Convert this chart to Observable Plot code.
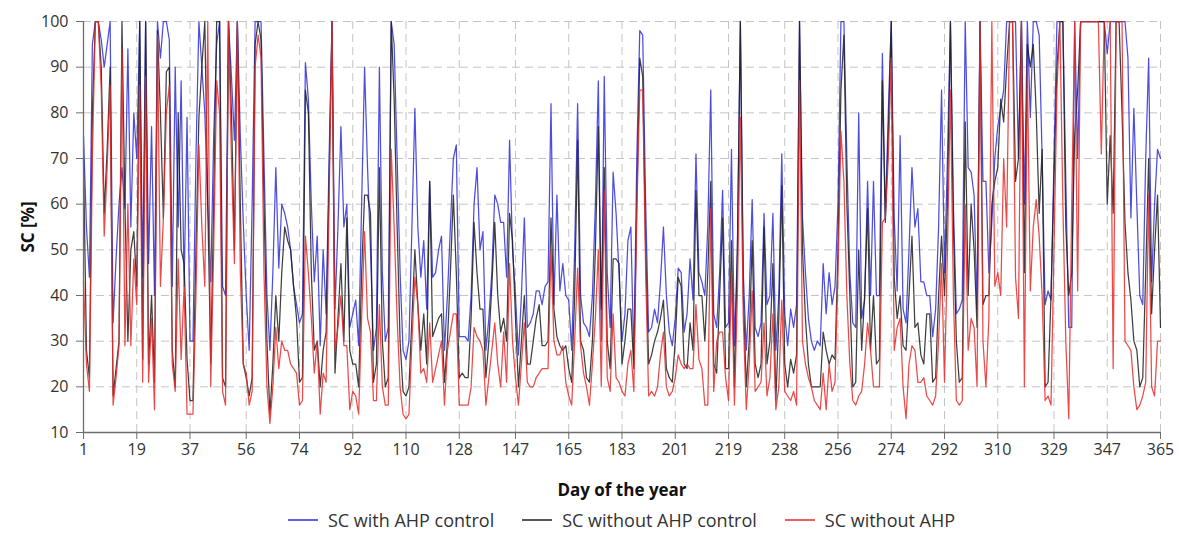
<!DOCTYPE html>
<html>
<head>
<meta charset="utf-8">
<script src="https://cdn.jsdelivr.net/npm/d3@7"></script>
<script src="https://cdn.jsdelivr.net/npm/@observablehq/plot@0.6"></script>
<style>
  body { margin: 0; background: #fff; font-family: "Open Sans", sans-serif; }
  #legend { display: flex; justify-content: center; align-items: center; height: 29px;
            margin-left: 83px; margin-right: 19px; font-size: 18px; color: #333; }
  .item { display: flex; align-items: center; margin: 0 14px; }
  .sw { display: inline-block; width: 30px; height: 2px; margin-right: 10px; opacity: 0.75; }
</style>
</head>
<body>
<div id="chart"></div>
<div id="legend"></div>
<script>
const tickDays = [1,19,37,56,74,92,110,128,147,165,183,201,219,238,256,274,292,310,329,347,365];
const yTicks = [10,20,30,40,50,60,70,80,90,100];
const seriesNames = ["SC with AHP control", "SC without AHP control", "SC without AHP"];
const seriesColors = ["#2f2fd8", "#1e1e1e", "#e82a2a"];

// SC with AHP control, day 1..365
const blue = [
  75,55,44,95,100,100,96,90,95,100,
  34,48,60,68,59,94,55,80,70,100,
  44,100,47,77,40,100,92,100,100,96,
  42,90,55,87,42,79,30,
  30,70,100,90,80,60,43,75,95,100,
  42,40,100,88,74,100,75,56,40,28,
  60,100,100,100,70,40,28,45,68,46,
  60,58,55,50,42,38,
  34,36,91,83,60,43,53,29,50,36,
  70,100,37,55,77,55,60,33,36,39,
  29,60,90,68,50,28,33,90,45,30,33,100,
  95,70,45,28,26,
  30,55,81,55,44,52,37,65,44,45,
  50,53,28,40,55,70,73,31,31,31,
  30,40,60,68,50,54,28,35,45,62,60,56,
  56,44,74,50,40,27,40,57,33,34,
  36,41,41,38,42,43,82,38,62,41,
  47,40,39,28,50,82,40,34,33,31,
  40,60,87,30,88,
  45,33,67,58,45,30,36,52,55,26,
  70,98,97,60,32,33,37,34,43,55,
  40,32,29,35,46,45,32,36,48,39,
  71,45,43,40,55,85,
  36,33,45,63,33,34,72,29,50,100,
  45,28,40,61,33,31,34,58,38,40,
  58,28,40,71,36,29,37,33,38,100,
  57,45,35,30,28,30,29,
  47,36,45,38,42,60,100,100,70,45,
  34,33,80,35,39,65,40,65,40,40,
  93,57,80,100,57,41,75,37,34,50,
  68,55,59,43,43,
  40,40,31,37,55,85,45,70,100,60,
  36,37,39,100,68,67,62,37,100,65,
  65,45,56,70,77,81,85,100,100,100,
  100,70,100,60,100,79,
  100,100,97,70,38,41,39,70,100,100,
  100,65,33,33,100,70,100,100,100,100,
  100,100,100,100,100,93,100,100,100,100,
  100,100,92,57,81,60,40,38,70,92,
  43,60,72,70
];

// SC without AHP control
const black = [
  70,28,22,80,100,100,90,58,72,90,
  18,24,30,100,60,30,50,54,42,100,
  26,100,25,40,21,98,80,57,89,90,
  28,20,80,50,47,26,17,
  17,50,79,90,100,60,25,60,100,100,
  22,20,100,80,50,100,60,25,22,18,
  22,95,100,96,60,30,14,25,40,30,
  45,55,52,50,42,35,
  21,22,85,80,45,28,30,20,28,32,
  65,100,23,35,47,30,57,28,25,25,
  20,45,62,62,58,21,25,68,30,20,22,100,
  83,55,30,19,18,
  20,35,50,38,28,36,25,65,31,33,
  35,36,21,30,45,62,45,22,23,22,
  22,35,56,45,37,37,22,30,42,56,40,32,
  35,30,58,52,35,20,30,40,25,25,
  30,35,38,29,29,30,57,37,31,29,
  28,29,24,21,40,74,30,28,22,21,
  30,50,77,37,68,
  30,24,48,48,47,25,30,37,37,24,
  60,92,88,50,25,27,30,32,35,39,
  24,22,21,30,44,42,25,24,34,28,
  63,40,40,30,45,65,
  25,23,40,57,24,24,52,20,50,100,
  40,20,30,52,25,22,25,55,25,30,
  47,17,35,64,25,20,26,23,27,100,
  50,35,25,20,20,20,20,
  32,28,25,27,26,50,85,97,60,40,
  20,21,50,28,40,59,28,40,25,26,
  87,56,75,100,44,35,40,29,28,40,
  53,33,34,27,25,
  36,36,21,22,40,53,40,60,100,55,
  30,21,22,78,40,60,50,33,100,38,
  40,40,60,65,68,83,78,90,100,100,
  65,70,100,45,95,90,
  95,80,58,72,20,21,40,65,90,100,
  100,55,40,45,75,85,100,100,100,100,
  100,100,100,100,100,60,75,58,100,100,
  80,56,45,39,30,28,20,22,45,70,
  36,50,62,33
];

// SC without AHP
const red = [
  43,25,19,70,100,100,85,53,68,86,
  16,22,29,94,29,60,29,48,38,86,
  21,88,21,35,15,97,42,57,80,86,
  25,19,48,26,42,14,14,
  14,40,73,55,42,100,20,50,87,80,
  19,16,100,70,47,100,45,25,23,16,
  19,90,97,92,45,20,12,20,33,24,
  30,28,28,25,24,23,
  16,17,53,45,35,23,30,14,23,21,
  60,100,28,33,40,29,29,15,19,18,
  14,35,54,35,32,17,17,38,20,16,16,72,
  55,35,20,14,13,
  14,30,44,38,23,24,21,34,21,24,
  27,30,16,28,32,36,36,16,16,16,
  16,20,33,31,30,28,16,22,28,34,25,20,
  32,21,47,30,22,16,25,34,21,20,
  20,22,23,24,24,24,50,30,27,27,
  29,21,18,16,30,46,29,23,20,16,
  25,35,50,20,63,
  22,19,36,22,21,19,18,25,28,19,
  58,85,85,45,18,19,18,20,27,32,
  20,18,19,22,27,25,24,25,24,24,
  38,26,24,16,16,59,
  19,30,32,32,22,17,45,16,40,79,
  35,15,25,41,19,20,21,34,18,22,
  36,15,20,39,19,18,17,19,16,87,
  30,25,22,20,17,16,15,
  23,15,25,19,21,45,76,65,40,25,
  17,16,18,19,25,34,28,20,20,20,
  56,57,70,92,28,33,35,20,13,25,
  29,28,21,21,22,
  18,17,16,18,30,47,21,50,85,40,
  17,16,17,60,28,35,33,20,100,30,
  20,35,100,42,45,40,70,55,100,100,
  44,35,100,20,90,41,
  55,61,53,40,17,18,16,50,85,100,
  60,30,13,60,100,41,100,100,100,100,
  100,100,100,71,100,100,100,24,100,100,
  100,30,29,28,20,15,16,18,21,62,
  20,18,30,30
];

const all = [blue, black, red];
all.forEach((a, i) => { if (a.length !== 365) throw new Error(seriesNames[i] + " length " + a.length); });

const rows = [];
all.forEach((arr, s) => arr.forEach((v, i) => rows.push({day: i + 1, value: v, series: seriesNames[s]})));

const gridStyle = {stroke: "#c4c4c4", strokeOpacity: 1, strokeDasharray: "8,5", strokeWidth: 1};

const chart = Plot.plot({
  width: 1179,
  height: 505,
  marginLeft: 83,
  marginRight: 19,
  marginTop: 21,
  marginBottom: 73,
  style: {fontFamily: "'Open Sans', sans-serif", background: "#fff", color: "#333"},
  x: {domain: [1, 365]},
  y: {domain: [10, 100]},
  color: {domain: seriesNames, range: seriesColors},
  marks: [
    Plot.gridY(yTicks.filter(d => d > 10), gridStyle),
    Plot.gridX(tickDays.filter(d => d > 1), gridStyle),
    Plot.line(rows, {x: "day", y: "value", z: "series", stroke: "series", strokeWidth: 1.25, strokeOpacity: 0.85}),
    Plot.ruleX([1], {stroke: "#6e6e6e", strokeWidth: 1.3}),
    Plot.ruleY([10], {stroke: "#6e6e6e", strokeWidth: 1.3}),
    Plot.axisY(yTicks, {tickSize: 7, tickPadding: 8, fontSize: 16, stroke: "#6e6e6e", fill: "#333", label: null}),
    Plot.axisX(tickDays, {tickSize: 7, tickPadding: 4, fontSize: 16, stroke: "#6e6e6e", fill: "#333", label: null}),
    Plot.text(["SC [%]"], {text: d => d, frameAnchor: "left", dx: -55, rotate: -90, textAnchor: "middle", lineAnchor: "middle", fontWeight: "bold", fontSize: 17, fill: "#111"}),
    Plot.text(["Day of the year"], {text: d => d, frameAnchor: "bottom", dy: 58, textAnchor: "middle", lineAnchor: "middle", fontWeight: "bold", fontSize: 17, fill: "#111"})
  ]
});
document.getElementById("chart").appendChild(chart);

const legend = document.getElementById("legend");
seriesNames.forEach((name, i) => {
  const item = document.createElement("div");
  item.className = "item";
  const sw = document.createElement("span");
  sw.className = "sw";
  sw.style.background = seriesColors[i];
  const t = document.createElement("span");
  t.textContent = name;
  item.appendChild(sw);
  item.appendChild(t);
  legend.appendChild(item);
});
</script>
</body>
</html>
